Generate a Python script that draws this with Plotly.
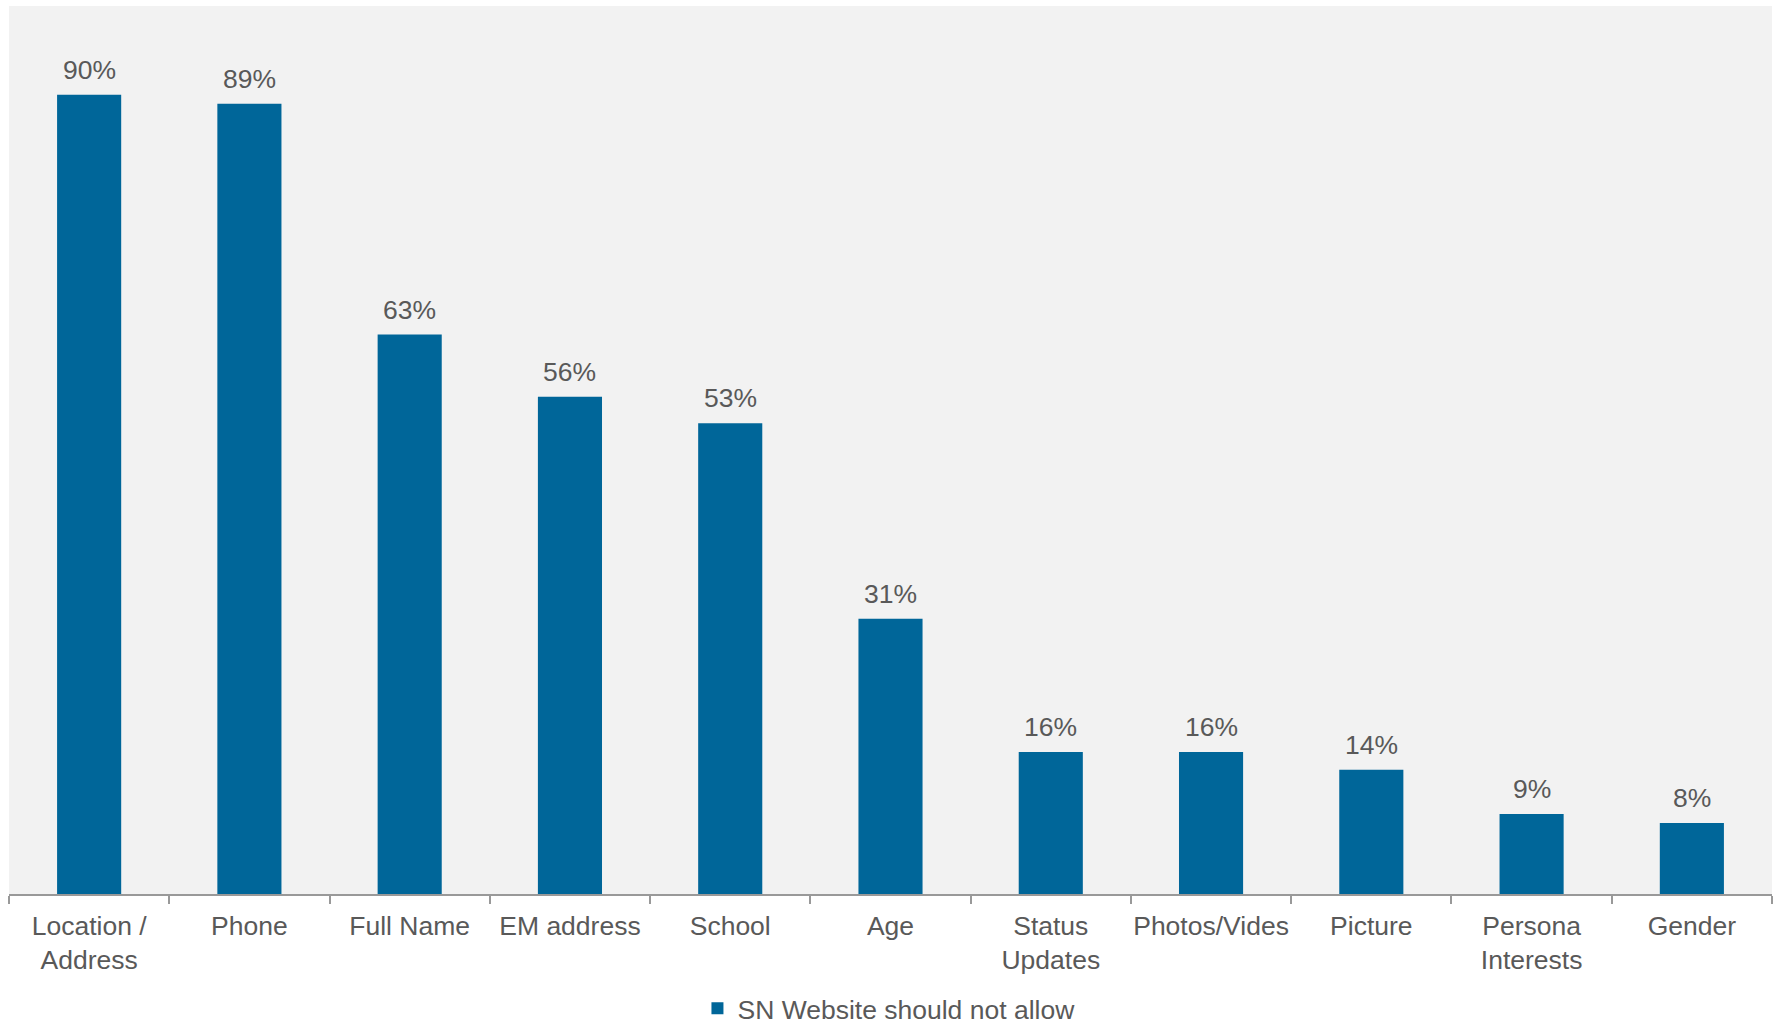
import plotly.graph_objects as go

categories = ["Location /<br>Address", "Phone", "Full Name", "EM address", "School", "Age",
              "Status<br>Updates", "Photos/Vides", "Picture", "Persona<br>Interests", "Gender"]
values = [90, 89, 63, 56, 53, 31, 16, 16, 14, 9, 8]
series_name = "SN Website should not allow"

BAR = "#006699"
TXT = "#595959"
FONT = "Liberation Sans, Arial, Helvetica, sans-serif"

fig = go.Figure()
fig.add_trace(go.Bar(x=categories, y=values, name=series_name,
                     marker=dict(color=BAR, line=dict(width=0)),
                     showlegend=True))

for c, v in zip(categories, values):
    fig.add_annotation(x=c, y=v, text=f"{v}%", showarrow=False, yanchor="bottom",
                       yshift=8, font=dict(size=26.5, color=TXT, family=FONT))

fig.update_layout(
    width=1775, height=1024,
    margin=dict(l=9, r=3, t=6, b=130, autoexpand=False),
    plot_bgcolor="#F2F2F2", paper_bgcolor="#FFFFFF",
    bargap=0.6,
    font=dict(family=FONT, color=TXT, size=26),
    showlegend=True,
    legend=dict(orientation="h", x=0.3905, xanchor="left", y=-0.102, yanchor="top",
                font=dict(size=26.5, color=TXT, family=FONT), bgcolor="rgba(0,0,0,0)"),
    xaxis=dict(showline=True, linecolor="#999999", linewidth=2, ticks="outside",
               tickson="boundaries", ticklen=8, tickcolor="#999999", tickwidth=2,
               tickangle=0, automargin=False, ticklabelstandoff=7,
               tickfont=dict(size=26.5, color=TXT, family=FONT), showgrid=False),
    yaxis=dict(range=[0, 100], visible=False, showgrid=False, zeroline=False),
)

fig.write_html("out.html", config={"displayModeBar": False},
               post_script="document.body.style.margin='0';")
